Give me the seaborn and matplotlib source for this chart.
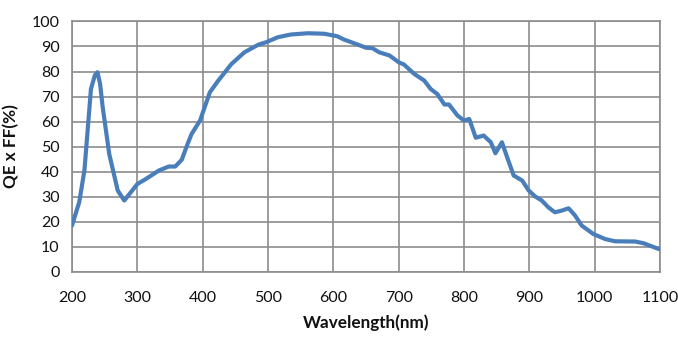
import matplotlib
matplotlib.use("Agg")
import matplotlib.pyplot as plt
import seaborn as sns
import pandas as pd

wavelength = [200, 211, 219, 229, 235, 239, 243, 247, 257, 270, 280, 290, 300, 313, 333, 348, 358,
              368, 376, 383, 396, 403, 411, 424, 444, 464, 485, 497, 515, 535, 561, 586, 606, 616,
              637, 650, 660, 670, 686, 700, 708, 724, 739, 749, 759, 770, 777, 790, 800, 808, 818,
              830, 841, 848, 858, 866, 876, 889, 899, 909, 919, 929, 939, 950, 960, 970, 980, 998,
              1016, 1031, 1062, 1075, 1098]
qe_ff = [18.4, 27.7, 40.4, 73.0, 78.5, 79.7, 75.0, 65.7, 47.0, 32.4, 28.4, 31.7, 35.0, 37.0, 40.4,
         42.0, 42.0, 44.7, 50.4, 55.0, 60.4, 65.7, 71.7, 76.4, 83.0, 87.7, 90.7, 91.7, 93.7, 94.8,
         95.3, 95.1, 94.1, 92.8, 90.8, 89.5, 89.3, 87.7, 86.4, 83.7, 82.8, 79.0, 76.4, 73.0, 71.0,
         66.8, 66.8, 62.4, 60.4, 61.0, 53.5, 54.4, 51.7, 47.3, 51.7, 45.7, 38.4, 36.4, 32.4, 30.0,
         28.4, 25.7, 23.7, 24.4, 25.3, 22.4, 18.4, 15.0, 13.0, 12.1, 12.0, 11.3, 9.0]

x_ticks = [200, 300, 400, 500, 600, 700, 800, 900, 1000, 1100]
y_ticks = [0, 10, 20, 30, 40, 50, 60, 70, 80, 90, 100]

df = pd.DataFrame({"Wavelength(nm)": wavelength, "QE x FF(%)": qe_ff})

sns.set_style("white")
plt.rcParams["font.family"] = ["Lato", "DejaVu Sans"]

fig = plt.figure(figsize=(6.78, 3.39), dpi=100)
ax = fig.add_axes([0.1062, 0.199, 0.8673, 0.7376])

grid_color = "#8c8c8c"
sns.lineplot(data=df, x="Wavelength(nm)", y="QE x FF(%)", ax=ax, color="#4a7ebb",
             linewidth=3.0, zorder=3)

ax.set_xlim(200, 1100)
ax.set_ylim(0, 100)
ax.set_xticks(x_ticks)
ax.set_yticks(y_ticks)
ax.grid(True, color=grid_color, linewidth=1.2)
for s in ax.spines.values():
    s.set_color(grid_color)
    s.set_linewidth(1.2)
ax.tick_params(axis="both", direction="out", length=5, width=1.2, color=grid_color,
               labelsize=11.5, labelcolor="#111111", pad=4)
ax.tick_params(axis="x", pad=9)
ax.set_xlabel("Wavelength(nm)", fontsize=12.3, fontweight="bold", labelpad=7, color="#111111")
ax.set_ylabel("QE x FF(%)", fontsize=12.3, fontweight="bold", labelpad=9, color="#111111")

fig.savefig("out.png", dpi=100)
